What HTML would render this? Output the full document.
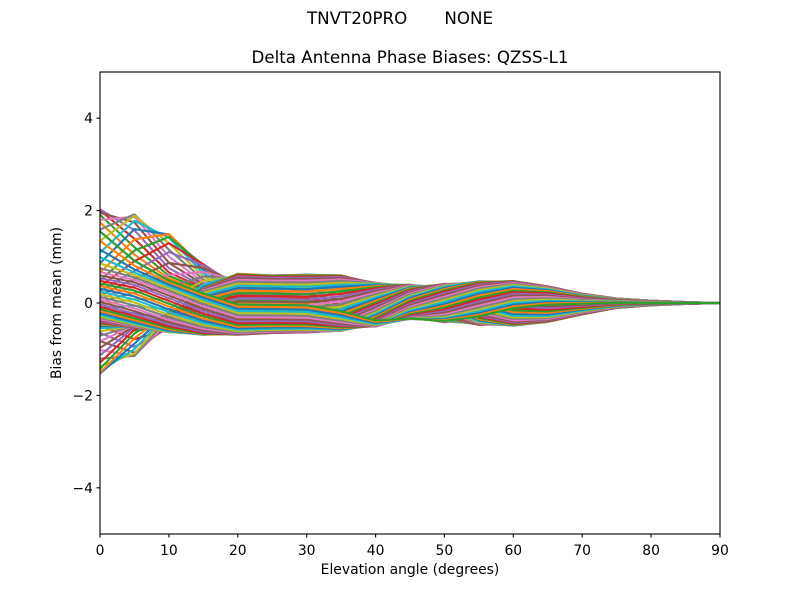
<!DOCTYPE html>
<html>
<head>
<meta charset="utf-8">
<style>
html,body{margin:0;padding:0;background:#fff;}
svg{display:block;}
text{font-family:"DejaVu Sans","Liberation Sans",sans-serif;fill:#000;}
</style>
</head>
<body>
<svg id="chart" width="800" height="600" viewBox="0 0 800 600" xmlns="http://www.w3.org/2000/svg">
<defs>
<clipPath id="clip"><rect x="100" y="72" width="620" height="462"/></clipPath>
</defs>
<rect x="0" y="0" width="800" height="600" fill="#fff"/>
<g id="lines" clip-path="url(#clip)" fill="none" stroke-width="2.08" stroke-linejoin="round" stroke-linecap="square"></g>
<rect x="100" y="72" width="620" height="462" fill="none" stroke="#000" stroke-width="1.1"/>
<g stroke="#000" stroke-width="1.1">
<line x1="100" y1="534" x2="100" y2="537.5"/>
<line x1="168.9" y1="534" x2="168.9" y2="537.5"/>
<line x1="237.8" y1="534" x2="237.8" y2="537.5"/>
<line x1="306.7" y1="534" x2="306.7" y2="537.5"/>
<line x1="375.6" y1="534" x2="375.6" y2="537.5"/>
<line x1="444.4" y1="534" x2="444.4" y2="537.5"/>
<line x1="513.3" y1="534" x2="513.3" y2="537.5"/>
<line x1="582.2" y1="534" x2="582.2" y2="537.5"/>
<line x1="651.1" y1="534" x2="651.1" y2="537.5"/>
<line x1="720" y1="534" x2="720" y2="537.5"/>
<line x1="96.5" y1="118.2" x2="100" y2="118.2"/>
<line x1="96.5" y1="210.6" x2="100" y2="210.6"/>
<line x1="96.5" y1="303" x2="100" y2="303"/>
<line x1="96.5" y1="395.4" x2="100" y2="395.4"/>
<line x1="96.5" y1="487.8" x2="100" y2="487.8"/>
</g>
<g font-size="13.9" text-anchor="middle">
<text x="100" y="555">0</text>
<text x="168.9" y="555">10</text>
<text x="237.8" y="555">20</text>
<text x="306.7" y="555">30</text>
<text x="375.6" y="555">40</text>
<text x="444.4" y="555">50</text>
<text x="513.3" y="555">60</text>
<text x="582.2" y="555">70</text>
<text x="651.1" y="555">80</text>
<text x="720" y="555">90</text>
</g>
<g font-size="13.9" text-anchor="end">
<text x="93" y="123.2">4</text>
<text x="93" y="215.6">2</text>
<text x="93" y="308">0</text>
<text x="93" y="400.4">−2</text>
<text x="93" y="492.8">−4</text>
</g>
<text x="410" y="574" font-size="13.9" text-anchor="middle">Elevation angle (degrees)</text>
<text transform="translate(61,303) rotate(-90)" font-size="13.9" text-anchor="middle">Bias from mean (mm)</text>
<text x="410" y="63" font-size="16.7" text-anchor="middle">Delta Antenna Phase Biases: QZSS-L1</text>
<text x="400" y="24" font-size="16.7" text-anchor="middle" xml:space="preserve" style="white-space:pre">TNVT20PRO       NONE</text>
</svg>
<script>
(function(){
var C  =[0.05,0.05,0,-0.03,-0.04,-0.03,-0.03,-0.04,-0.05,0.05,0.01,-0.03,-0.03,-0.03,-0.02,0,0,0,0];
var R  =[0.6,0.6,0.58,0.6,0.63,0.62,0.62,0.6,0.47,0.37,0.41,0.47,0.48,0.38,0.22,0.1,0.05,0.02,0];
var PH =[0,20,45,70,90,90,90,100,130,165,205,240,262,270,270,270,270,270,270];
var OP =[1.35,1.3,1.0,0.55,0.12,0,0,0,0,0,0,0,0,0,0,0,0,0,0];
var OM =[1.1,1.0,0.8,0.4,0.2,0.08,0,0,0,0,0,0,0,0,0,0,0,0,0];
var D  =[0.08,0.08,0.07,0.06,0.05,0.04,0.04,0.04,0.03,0.03,0.03,0.03,0.03,0.03,0.02,0.01,0,0,0];
var cols=['#1f77b4','#ff7f0e','#2ca02c','#d62728','#9467bd','#8c564b','#e377c2','#7f7f7f','#bcbd22','#17becf'];
var g=document.getElementById('lines');
var ns='http://www.w3.org/2000/svg';
var r=Math.PI/180;
function wrap(d){d=((d%360)+540)%360-180;return d;}
var sig=20;
for(var i=0;i<=72;i++){
  var azd=i*5, az=azd*r;
  var pts=[];
  for(var k=0;k<19;k++){
    var e=k*5;
    var qc=90-3.5*(20-e);
    var qm=150-4*e;
    var dp=wrap(azd-qc), dm=wrap(azd-qm);
    var p=Math.exp(-dp*dp/(2*sig*sig));
    var m=Math.exp(-dm*dm/(2*sig*sig));
    var v=C[k]+R[k]*Math.cos(az-PH[k]*r)+OP[k]*p-OM[k]*m+D[k]*Math.cos(2*az+e*4*r);
    var x=100+e*620/90, y=303-v*46.2;
    pts.push(x.toFixed(2)+','+y.toFixed(2));
  }
  var pl=document.createElementNS(ns,'polyline');
  pl.setAttribute('points',pts.join(' '));
  pl.setAttribute('stroke',cols[i%10]);
  g.appendChild(pl);
}
})();
</script>
</body>
</html>
